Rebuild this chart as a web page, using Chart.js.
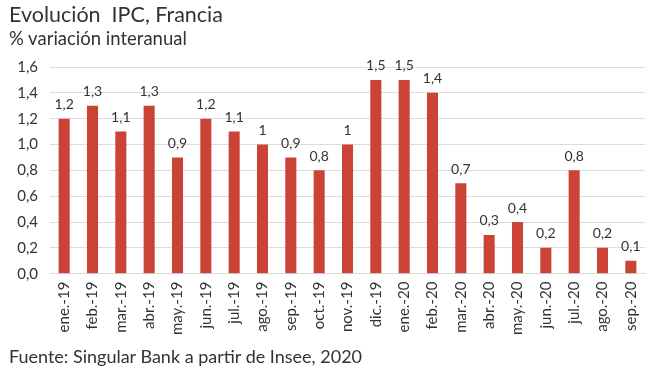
<!DOCTYPE html>
<html>
<head>
<meta charset="utf-8">
<script src="https://cdn.jsdelivr.net/npm/chart.js@4.4.1/dist/chart.umd.min.js"></script>
<style>
  html, body { margin: 0; padding: 0; background: #fff; }
  #wrap { position: relative; width: 650px; height: 381px; overflow: hidden; font-family: Lato, "Open Sans", sans-serif; color: #333; }
  #title { position: absolute; left: 9px; top: 1px; font-size: 21.5px; color: #333; }
  #subtitle { position: absolute; left: 9px; top: 27px; font-size: 18.5px; color: #333; }
  #footer { position: absolute; left: 9px; top: 345px; font-size: 18px; color: #333; }
  #cw { position: absolute; left: 0; top: 0; width: 650px; height: 381px; }
</style>
</head>
<body>
<div id="wrap">
  <div id="cw"><canvas id="c" width="650" height="381"></canvas></div>
  <div id="title">Evolución&nbsp; IPC, Francia</div>
  <div id="subtitle">% variación interanual</div>
  <div id="footer">Fuente: Singular Bank a partir de Insee, 2020</div>
</div>
<script>
const categories = ["ene.-19","feb.-19","mar.-19","abr.-19","may.-19","jun.-19","jul.-19","ago.-19","sep.-19","oct.-19","nov.-19","dic.-19","ene.-20","feb.-20","mar.-20","abr.-20","may.-20","jun.-20","jul.-20","ago.-20","sep.-20"];
const ipcValues = [1.2,1.3,1.1,1.3,0.9,1.2,1.1,1.0,0.9,0.8,1.0,1.5,1.5,1.4,0.7,0.3,0.4,0.2,0.8,0.2,0.1];
const yTicks = [0,0.2,0.4,0.6,0.8,1.0,1.2,1.4,1.6];

const fmtLabel = v => String(v).replace('.', ',');

const valueLabels = {
  id: 'valueLabels',
  afterDatasetsDraw(chart) {
    const ctx = chart.ctx;
    const meta = chart.getDatasetMeta(0);
    ctx.save();
    ctx.font = '14px Lato, "Open Sans", sans-serif';
    ctx.fillStyle = '#333';
    ctx.textAlign = 'center';
    ctx.textBaseline = 'bottom';
    meta.data.forEach((bar, i) => {
      ctx.fillText(fmtLabel(ipcValues[i]), bar.x, bar.y - 7);
    });
    ctx.restore();
  }
};

new Chart(document.getElementById('c'), {
  type: 'bar',
  data: {
    labels: categories,
    datasets: [{
      data: ipcValues,
      backgroundColor: '#CB4337',
      barPercentage: 0.39,
      categoryPercentage: 1.0
    }]
  },
  options: {
    responsive: false,
    animation: false,
    layout: { padding: { left: 10, right: 5, top: 67, bottom: 38 } },
    plugins: { legend: { display: false }, tooltip: { enabled: false }, title: { display: false } },
    scales: {
      x: {
        afterFit(scale) { scale.paddingRight = 0; scale.paddingLeft = 0; },
        grid: { display: false, drawTicks: false },
        border: { display: true, color: '#d9d9d9' },
        ticks: {
          minRotation: 90, maxRotation: 90, padding: 8,
          color: '#333',
          font: { family: 'Lato, "Open Sans", sans-serif', size: 15 }
        }
      },
      y: {
        min: 0, max: 1.6,
        afterBuildTicks(scale) { scale.ticks = yTicks.map(v => ({ value: v })); },
        afterFit(scale) { scale.width = 40; },
        grid: { color: '#dcdcdc', drawTicks: false },
        border: { display: false },
        ticks: {
          padding: 12, color: '#333',
          font: { family: 'Lato, "Open Sans", sans-serif', size: 15 },
          callback: v => v.toFixed(1).replace('.', ',')
        }
      }
    }
  },
  plugins: [valueLabels]
});
</script>
</body>
</html>
